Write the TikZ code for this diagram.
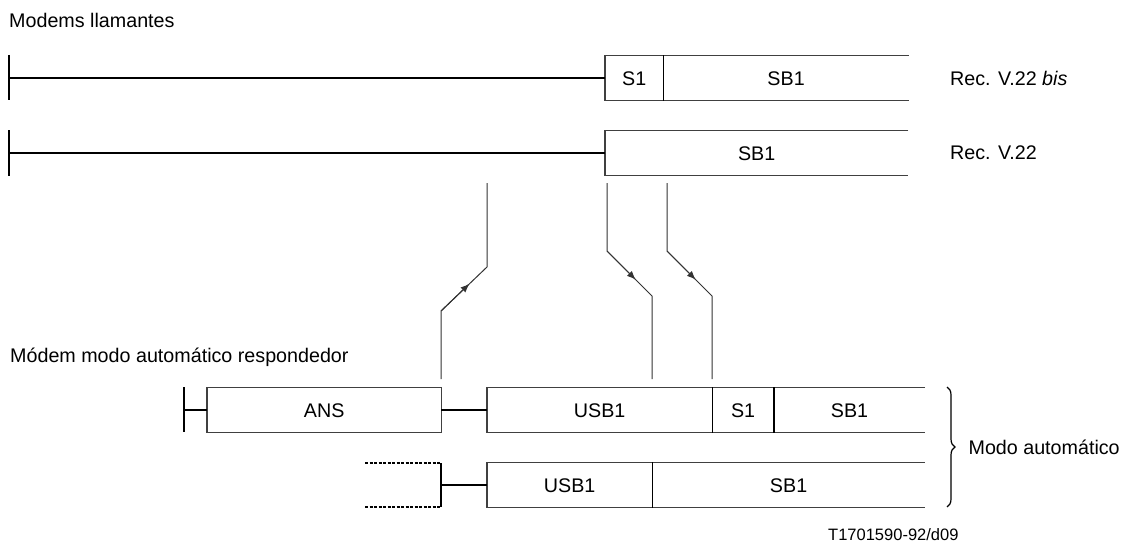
\documentclass[tikz,border=0pt]{standalone}
\usepackage{fontspec}
\setmainfont{Liberation Sans}
\usetikzlibrary{positioning,calc,decorations.pathreplacing,arrows.meta}

\begin{document}
\begin{tikzpicture}[x=1pt,y=-1pt,font=\fontsize{19.7}{23}\selectfont]
    \tikzstyle{seg} = [rectangle, inner sep=0pt, minimum height=45pt,
               text height=14pt, text depth=0pt, anchor=west, align=center]
    \tikzstyle{frame} = [draw=black!75, line width=1.2pt]
    \tikzstyle{divider} = [draw=black, line width=1.6pt]
    \tikzstyle{line} = [draw, line width=2.2pt]
    \tikzstyle{conn} = [draw=black!80, line width=1pt]
    \tikzstyle{label} = [anchor=west, inner sep=0pt]

    \useasboundingbox (0,0) rectangle (1127,551);

    % Titles
    \node[label] (callers) at (9,20) {Modems llamantes};
    \node[label] (answerer) at (10,357) {Módem modo automático respondedor};

    % Calling modem, V.22 bis
    \node[seg, minimum width=58pt] (bisS1) at (605,78) {S1};
    \node[seg, minimum width=245pt, right=0pt of bisS1] (bisSB1) {SB1};
    \draw[frame] (bisSB1.north east) -- (bisS1.north west) -- (bisS1.south west)
    -- (bisSB1.south east);
    \draw[divider] (bisS1.north east) -- (bisS1.south east);
    \node[label] (recbis) at (950,78) {Rec. V.22 \textit{bis}};
    \coordinate (bisstart) at (9,78);
    \draw[line] (9,55) -- (9,100);
    \draw[line] (bisstart) -- (bisS1);

    % Calling modem, V.22
    \node[seg, minimum width=303pt] (vSB1) at (605,153) {SB1};
    \draw[frame] (vSB1.north east) -- (vSB1.north west) -- (vSB1.south west)
    -- (vSB1.south east);
    \node[label] (rec) at (950,153) {Rec. V.22};
    \coordinate (vstart) at (9,153);
    \draw[line] (9,130) -- (9,176);
    \draw[line] (vstart) -- (vSB1);

    % Answering modem, first line
    \node[seg, minimum width=234pt] (ans) at (207,410) {ANS};
    \draw[frame] (ans.north west) rectangle (ans.south east);
    \node[seg, minimum width=225pt] (ansUSB) at (487,410) {USB1};
    \node[seg, minimum width=61pt, right=0pt of ansUSB] (ansS1) {S1};
    \node[seg, minimum width=151pt, right=0pt of ansS1] (ansSB1) {SB1};
    \draw[frame] (ansSB1.north east) -- (ansUSB.north west) -- (ansUSB.south west)
    -- (ansSB1.south east);
    \draw[divider] (ansS1.north west) -- (ansS1.south west);
    \draw[divider] (ansS1.north east) -- (ansS1.south east);
    \coordinate (ansstart) at (184,410);
    \draw[line] (184,387) -- (184,432);
    \draw[line] (ansstart) -- (ans);
    \draw[line] (ans) -- (ansUSB);

    % Answering modem, second line
    \node[seg, minimum width=165pt] (autoUSB) at (487,485) {USB1};
    \node[seg, minimum width=272pt, right=0pt of autoUSB] (autoSB1) {SB1};
    \draw[frame] (autoSB1.north east) -- (autoUSB.north west) -- (autoUSB.south west)
    -- (autoSB1.south east);
    \draw[divider] (autoUSB.north east) -- (autoUSB.south east);
    \draw[line width=1.6pt, dash pattern=on 3pt off 1.5pt] (365,463) -- (441,463);
    \draw[line width=1.6pt, dash pattern=on 3pt off 1.5pt] (365,507) -- (441,507);
    \draw[line] (441,463) -- (441,507);
    \coordinate (autostart) at (441,485);
    \draw[line] (autostart) -- (autoUSB);

    % Signal paths with two bends
    \coordinate (a1) at (441,379);
    \coordinate (a2) at (441,311);
    \coordinate (a3) at (487,267);
    \coordinate (a4) at (487,183);
    \draw[conn] (a1) -- (a2) -- (a3) -- (a4);
    \draw[conn, -{Latex[length=9pt,width=7pt]}] (a2) -- ($(a2)!0.62!(a3)$);

    \coordinate (b1) at (607,183);
    \coordinate (b2) at (607,251);
    \coordinate (b3) at (652,296);
    \coordinate (b4) at (652,379);
    \draw[conn] (b1) -- (b2) -- (b3) -- (b4);
    \draw[conn, -{Latex[length=9pt,width=7pt]}] (b2) -- ($(b2)!0.64!(b3)$);

    \coordinate (c1) at (667,183);
    \coordinate (c2) at (667,251);
    \coordinate (c3) at (712,296);
    \coordinate (c4) at (712,379);
    \draw[conn] (c1) -- (c2) -- (c3) -- (c4);
    \draw[conn, -{Latex[length=9pt,width=7pt]}] (c2) -- ($(c2)!0.64!(c3)$);

    % Brace over both answering lines
    \draw [decorate,decoration={brace,amplitude=8pt}, line width=1.2pt]
    (947,387) -- (947,507)
    node[midway, anchor=west, xshift=21pt, inner sep=0pt] (automode) {Modo automático};

    \node[label, font=\fontsize{16.5}{20}\selectfont] (figref) at (828,535) {T1701590-92/d09};

\end{tikzpicture}
\end{document}
